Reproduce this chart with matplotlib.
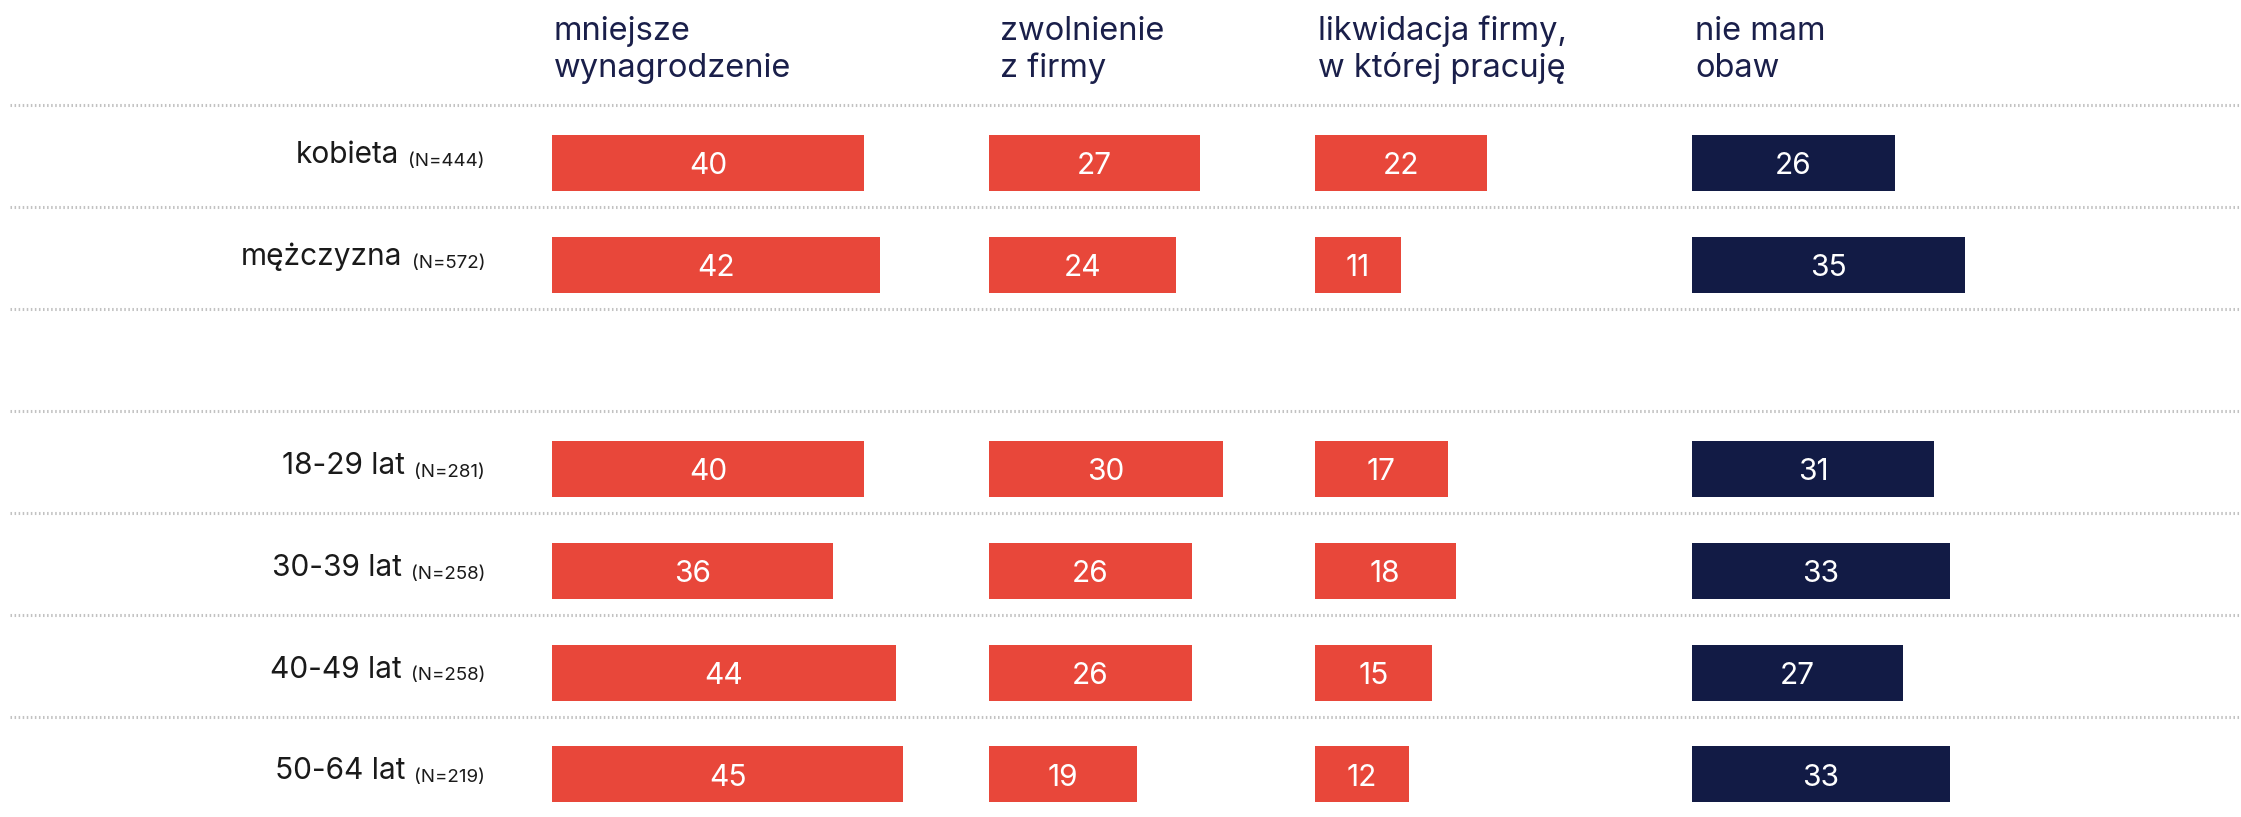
import matplotlib
matplotlib.use("Agg")
import matplotlib.pyplot as plt

plt.rcParams['font.family'] = ['Inter', 'DejaVu Sans']

# dane z wykresu
categories = ["kobieta", "mężczyzna", "18-29 lat", "30-39 lat", "40-49 lat", "50-64 lat"]
sample_sizes = ["(N=444)", "(N=572)", "(N=281)", "(N=258)", "(N=258)", "(N=219)"]
headers = ["mniejsze\nwynagrodzenie", "zwolnienie\nz firmy",
           "likwidacja firmy,\nw której pracuję", "nie mam\nobaw"]
mniejsze = [40, 42, 40, 36, 44, 45]
zwolnienie = [27, 24, 30, 26, 26, 19]
likwidacja = [22, 11, 17, 18, 15, 12]
nie_mam = [26, 35, 31, 33, 27, 33]

series = [mniejsze, zwolnienie, likwidacja, nie_mam]
bar_colors = ["#e8473a", "#e8473a", "#e8473a", "#121b45"]

# układ (w pikselach obrazka)
W, H, DPI = 2241, 817, 100
PX_PER_UNIT = 7.81
ROW_PX = 101.9
ROW0_PX = 163
rows = [0, 1, 3, 4, 5, 6]
label_dy = [0, 0, 5, 5, 5, 5]
col_left_px = [552, 989, 1315, 1692]
header_x_px = [554, 1000, 1318, 1695]
header_baselines = [40, 77.3]
label_right_px = 485


def px_x(px):
    return px / PX_PER_UNIT


def px_y(py):
    return (py - ROW0_PX) / ROW_PX


fig = plt.figure(figsize=(W / DPI, H / DPI), dpi=DPI)
ax = fig.add_axes([0, 0, 1, 1])
ax.set_xlim(0, px_x(W))
ax.set_ylim(px_y(H), px_y(0))
ax.axis("off")

# kropkowane linie oddzielające wiersze
line_rows = [r - 0.565 for r in range(7)]
ax.hlines(line_rows, px_x(10), px_x(W), colors="#c2c2c2",
          linewidth=2.2, linestyles=(0, (0.5, 0.83)))

# nagłówki kolumn
for hx, head in zip(header_x_px, headers):
    for line, base in zip(head.split("\n"), header_baselines):
        ax.text(px_x(hx), px_y(base), line, fontsize=23.5, color="#1a1f4a",
                ha="left", va="baseline")

# słupki
bar_h = 56 / ROW_PX
for left_px, vals, color in zip(col_left_px, series, bar_colors):
    left = px_x(left_px)
    ax.barh(rows, vals, left=left, height=bar_h, color=color, linewidth=0)
    for r, v in zip(rows, vals):
        ax.text(left + v / 2, r + 11.5 / ROW_PX, str(v), ha="center",
                va="baseline", color="white", fontsize=21.5)

# etykiety wierszy
renderer = fig.canvas.get_renderer()
for r, dy, cat, n in zip(rows, label_dy, categories, sample_sizes):
    tn = ax.text(px_x(label_right_px), r + (dy + 3) / ROW_PX, n, ha="right",
                 va="baseline", fontsize=13.5, color="#1a1a1a")
    x0 = tn.get_window_extent(renderer).x0
    ax.text(px_x(x0 - 9), r + dy / ROW_PX, cat, ha="right", va="baseline",
            fontsize=21.5, color="#1a1a1a")

fig.savefig("out.png", dpi=DPI)
